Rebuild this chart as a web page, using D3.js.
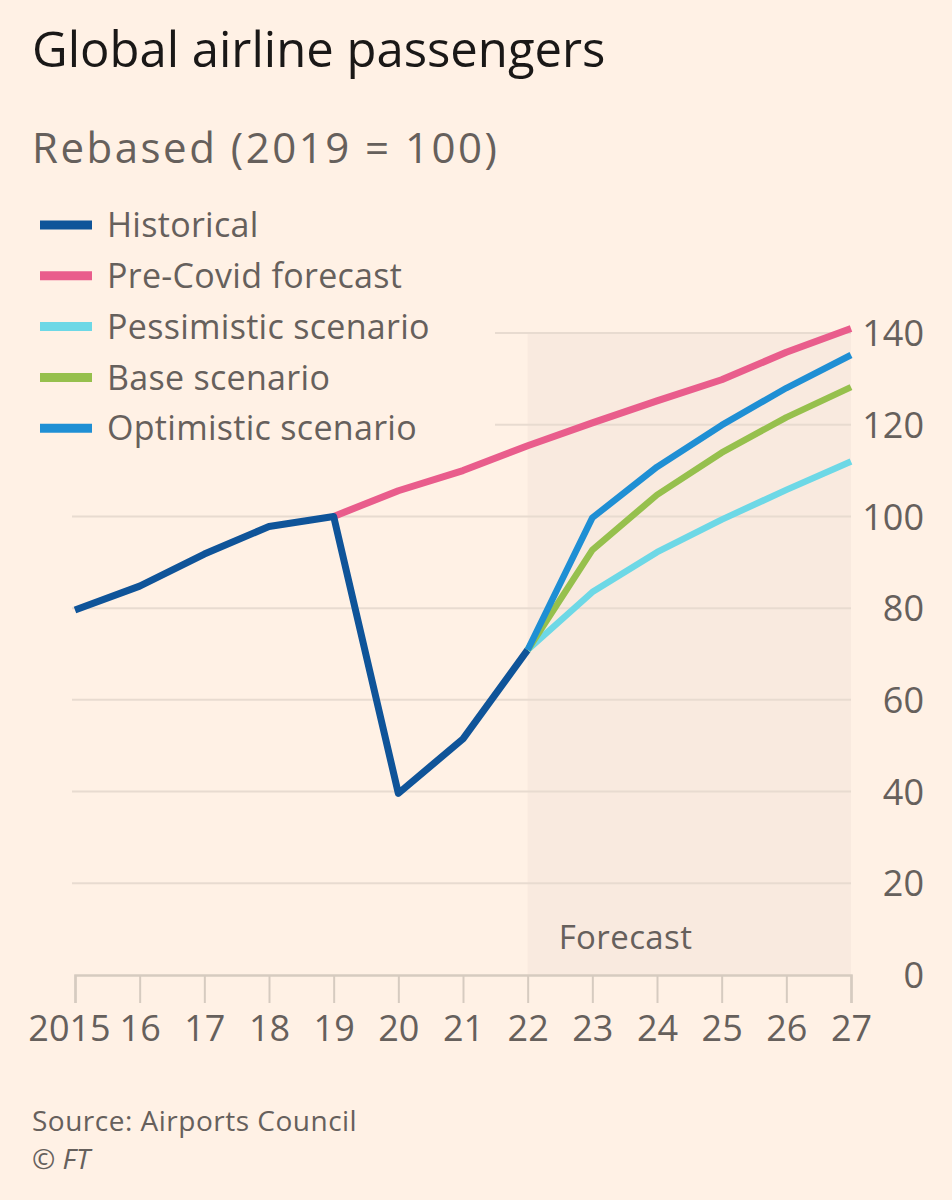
<!DOCTYPE html>
<html>
<head>
<meta charset="utf-8">
<script src="https://cdn.jsdelivr.net/npm/d3@7"></script>
<style>
  html, body { margin: 0; padding: 0; background: #FFF1E5; }
  svg { display: block; font-family: "Open Sans", "Noto Sans", sans-serif; }
</style>
</head>
<body>
<div id="chart"></div>
<script>
// data
const years = [2015, 2016, 2017, 2018, 2019, 2020, 2021, 2022, 2023, 2024, 2025, 2026, 2027];
const historical = [79.6, 84.8, 91.8, 97.8, 100, 39.6, 51.5, 70.9];
const preCovid = [100, 105.6, 110, 115.4, 120.4, 125.2, 129.8, 135.8, 141];
const pessimistic = [70.9, 83.5, 92.2, 99.3, 105.8, 112];
const base = [70.9, 92.7, 104.7, 113.9, 121.6, 128.2];
const optimistic = [70.9, 99.7, 110.8, 119.9, 128, 135.2];
const yTicks = [0, 20, 40, 60, 80, 100, 120, 140];
const xTickLabels = ["2015", "16", "17", "18", "19", "20", "21", "22", "23", "24", "25", "26", "27"];

const width = 952;
const height = 1200;
const textGrey = "#66605C";
const fontStack = "'Open Sans', 'Noto Sans', sans-serif";

const series = [
  { name: "Historical", start: 2015, values: historical, color: "#0F5499", w: 7 },
  { name: "Pre-Covid forecast", start: 2019, values: preCovid, color: "#E95D8C", w: 7 },
  { name: "Pessimistic scenario", start: 2022, values: pessimistic, color: "#6DD8E6", w: 6.5 },
  { name: "Base scenario", start: 2022, values: base, color: "#96C04D", w: 6.5 },
  { name: "Optimistic scenario", start: 2022, values: optimistic, color: "#1F8FD4", w: 6.5 },
];

const x = d3.scaleLinear().domain([2015, 2027]).range([75, 851]);
const y = d3.scaleLinear().domain([0, 140]).range([975, 333]);

const svg = d3
  .select("#chart")
  .append("svg")
  .attr("width", width)
  .attr("height", height)
  .attr("viewBox", [0, 0, width, height]);

svg.append("rect").attr("width", width).attr("height", height).attr("fill", "#FFF1E5");

// titles
svg.append("text")
  .attr("x", 32).attr("y", 67)
  .style("font-size", "49px")
  .style("fill", "#1a1817")
  .text("Global airline passengers");

svg.append("text")
  .attr("x", 32).attr("y", 163)
  .style("font-size", "42px")
  .style("letter-spacing", "2.5px")
  .style("fill", textGrey)
  .text("Rebased (2019 = 100)");

// forecast shading
svg.append("rect")
  .attr("x", x(2022))
  .attr("y", y(140))
  .attr("width", x(2027) - x(2022))
  .attr("height", y(0) - y(140))
  .attr("fill", "#F9EADF");

svg.append("text")
  .attr("x", x(2022) + 31).attr("y", 949)
  .style("font-size", "33px")
  .style("letter-spacing", "0.4px")
  .style("fill", textGrey)
  .text("Forecast");

// gridlines (top two stop short of the legend)
svg.append("g")
  .selectAll("line")
  .data(yTicks.filter((d) => d > 0))
  .join("line")
  .attr("x1", (d) => (d >= 120 ? 495 : 72))
  .attr("x2", x(2027))
  .attr("y1", (d) => y(d))
  .attr("y2", (d) => y(d))
  .attr("stroke", "#E8DBD0")
  .attr("stroke-width", 2);

// y axis on the right
const yAxis = svg.append("g")
  .attr("transform", `translate(${x(2027)},0)`)
  .call(d3.axisRight(y).tickValues(yTicks).tickSize(0).tickPadding(0));
yAxis.select(".domain").remove();
yAxis.selectAll("text")
  .attr("x", 73)
  .attr("text-anchor", "end")
  .attr("dy", "0.35em")
  .style("font-family", fontStack)
  .style("font-size", "36px")
  .style("fill", textGrey);

// x axis
const xAxis = svg.append("g")
  .attr("transform", `translate(0,${y(0)})`)
  .call(
    d3.axisBottom(x)
      .tickValues(years)
      .tickFormat((d, i) => xTickLabels[i])
      .tickSize(28)
      .tickPadding(12)
  );
xAxis.select(".domain")
  .attr("stroke", "#D6CBC0")
  .attr("stroke-width", 2.5);
xAxis.selectAll(".tick line")
  .attr("stroke", "#D6CBC0")
  .attr("stroke-width", 2);
xAxis.selectAll(".tick text")
  .attr("dx", (d, i) => (i === 0 ? -6 : 0))
  .style("font-family", fontStack)
  .style("font-size", "36px")
  .style("fill", textGrey);

// lines
const line = d3.line()
  .x((d) => x(d[0]))
  .y((d) => y(d[1]));

const drawOrder = [1, 0, 2, 3, 4];
svg.append("g")
  .selectAll("path")
  .data(drawOrder.map((i) => series[i]))
  .join("path")
  .attr("d", (s) => line(s.values.map((v, i) => [s.start + i, v])))
  .attr("fill", "none")
  .attr("stroke", (s) => s.color)
  .attr("stroke-width", (s) => s.w)
  .attr("stroke-linejoin", "round");

// legend
const legend = svg.append("g")
  .selectAll("g")
  .data(series)
  .join("g")
  .attr("transform", (d, i) => `translate(40,${225 + i * 50.8})`);

legend.append("line")
  .attr("x1", 0).attr("x2", 52)
  .attr("stroke", (d) => d.color)
  .attr("stroke-width", 9);

legend.append("text")
  .attr("x", 67)
  .attr("dy", "0.36em")
  .style("font-size", "34px")
  .style("letter-spacing", "0.3px")
  .style("fill", textGrey)
  .text((d) => d.name);

// source
svg.append("text")
  .attr("x", 32).attr("y", 1131)
  .style("font-size", "28px")
  .style("letter-spacing", "0.5px")
  .style("fill", textGrey)
  .text("Source: Airports Council");

svg.append("text")
  .attr("x", 32).attr("y", 1169)
  .style("font-size", "28px")
  .style("fill", textGrey)
  .text("© ")
  .append("tspan")
  .style("font-style", "italic")
  .text("FT");
</script>
</body>
</html>
